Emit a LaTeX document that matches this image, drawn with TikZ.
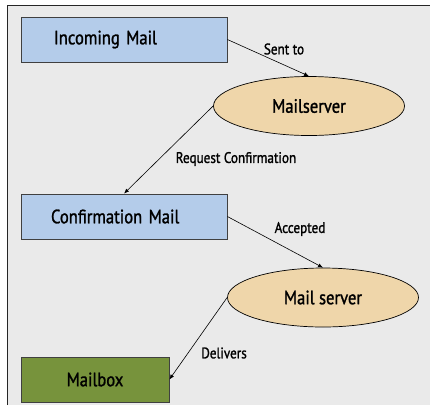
\documentclass[tikz,border=0pt]{standalone}
\usepackage{fontspec}
\setmainfont{PT Sans}[FakeStretch=0.86, FakeBold=1.3]
\usetikzlibrary{shapes.geometric,arrows.meta}
\definecolor{bgrey}{HTML}{EAEAEA}
\definecolor{boxblue}{HTML}{B4CCEA}
\definecolor{srvtan}{HTML}{EFD6AA}
\definecolor{boxgreen}{HTML}{77933C}
\begin{document}
\begin{tikzpicture}[x=1pt, y=-1pt,
  mailbox/.style={rectangle, draw=black!75, line width=0.8pt, minimum height=45pt, inner ysep=0pt, font=\fontsize{19.3}{22}\selectfont, align=left},
  server/.style={ellipse, draw=black, line width=0.7pt, fill=srvtan, minimum width=191pt, minimum height=59pt, inner sep=0pt, font=\fontsize{19.3}{22}\selectfont},
  flow/.style={-{Latex[length=5pt,width=4pt]}, line width=0.6pt},
  lbl/.style={font=\fontsize{15.3}{18}\selectfont}]
\useasboundingbox (0,0) rectangle (430,405);
\fill [bgrey] (7,5) rectangle (430,405);
\draw [line width=1pt, black!85] (7,405) -- (7,5) -- (430,5);

\node [mailbox, fill=boxblue, text width=140pt, inner xsep=33pt] (in) at (124,39.5) {Incoming Mail};
\node [server] (srv1) at (309,106) {Mailserver};
\node [mailbox, fill=boxblue, text width=146pt, inner xsep=30pt] (conf) at (124,216.5) {Confirmation Mail};
\node [server] (srv2) at (323,297.5) {Mail server};
\node [mailbox, fill=boxgreen, minimum width=148pt, align=center] (mbox) at (95,379.5) {Mailbox};

\draw [flow] (in.east) -- (srv1.north);
\draw [flow] (srv1.west) -- (conf.north);
\draw [flow] (conf.east) -- (srv2.north);
\draw [flow] (srv2.west) -- (mbox.east);

\node [lbl] at (284,49) {Sent to};
\node [lbl] at (236,159) {Request Confirmation};
\node [lbl] at (300,229) {Accepted};
\node [lbl] at (224,353) {Delivers};
\end{tikzpicture}
\end{document}
